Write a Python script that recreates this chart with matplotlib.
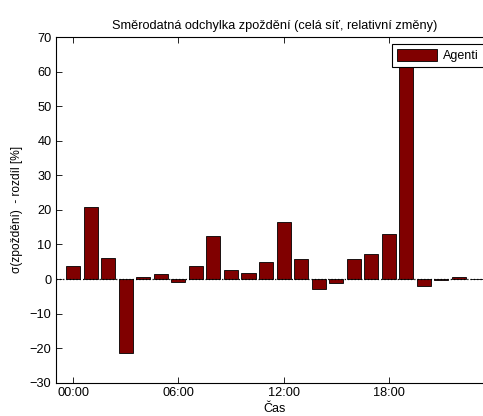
import numpy as np
import matplotlib
matplotlib.use("Agg")
import matplotlib.pyplot as plt

## DATA ##
hours = np.arange(24)
rel_change = [3.9, 20.8, 6.1, -21.5, 0.6, 1.4, -0.8, 3.9, 12.4, 2.6, 1.7, 5.0,
              16.4, 5.8, -3.0, -1.1, 5.9, 7.3, 12.9, 63.0, -2.1, -0.4, 0.6, 0.0]
tick_hours = [0, 6, 12, 18]
tick_labels = ["00:00", "06:00", "12:00", "18:00"]
series_name = "Agenti"

## STYLE ##
plt.rcParams['font.family'] = ['Liberation Sans', 'DejaVu Sans']
plt.rcParams['font.size'] = 9
bar_color = '#800000'

fig = plt.figure(figsize=(4.83, 4.16), dpi=100, facecolor='white')
ax = fig.add_axes([0.115, 0.080, 0.908, 0.831])

ax.bar(hours, rel_change, width=0.8, color=bar_color, edgecolor='black',
       linewidth=0.6, label=series_name, zorder=2)
ax.axhline(0, color='black', linestyle=':', linewidth=0.9, zorder=3)

ax.set_xlim(-1, 24)
ax.set_ylim(-30, 70)
ax.set_xticks(tick_hours, labels=tick_labels)
ax.set_yticks(np.arange(-30, 71, 10))
ax.tick_params(direction='in', top=True, right=True, length=4, width=0.6,
               labelsize=9.2, pad=3)
for spine in ax.spines.values():
    spine.set_linewidth(0.8)

ax.set_title("Směrodatná odchylka zpoždění (celá síť, relativní změny)",
             fontsize=9.2, pad=6)
ax.set_xlabel("Čas", fontsize=9, labelpad=3)
ax.set_ylabel("σ(zpoždění)  - rozdíl [%]", fontsize=8.6, labelpad=5)

leg = ax.legend(loc='upper left', bbox_to_anchor=(0.767, 0.98),
                borderaxespad=0, fancybox=False, framealpha=1,
                edgecolor='black', handlelength=3.2, handleheight=1.1,
                borderpad=0.4, handletextpad=0.5, fontsize=9)
leg.set_zorder(5)
leg.get_frame().set_linewidth(0.8)

fig.savefig("out.png", dpi=100)
